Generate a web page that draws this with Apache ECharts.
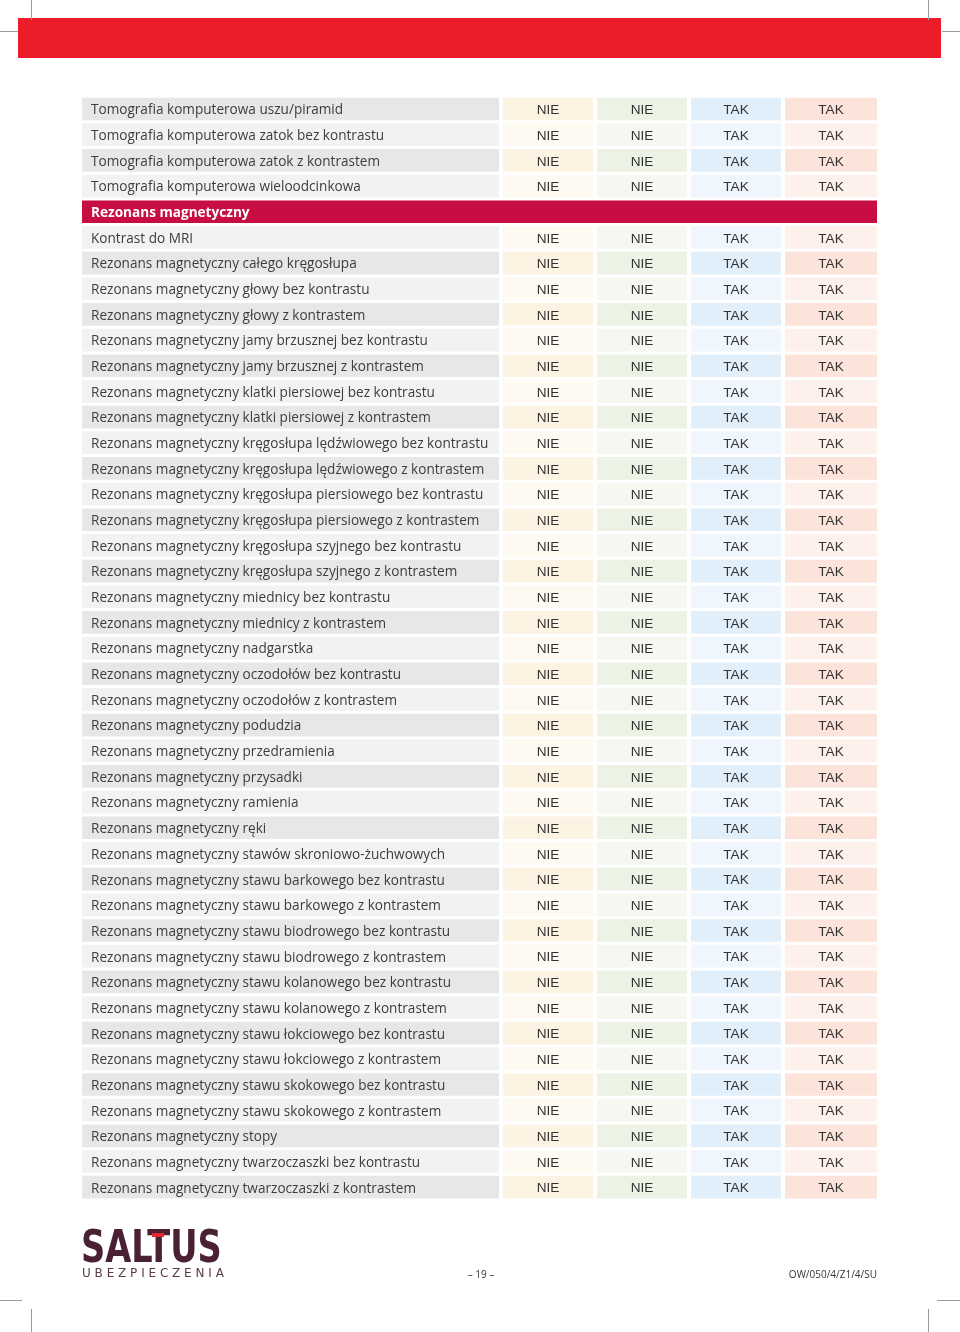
<!DOCTYPE html>
<html>
<head>
<meta charset="utf-8">
<script src="https://cdn.jsdelivr.net/npm/echarts@6/dist/echarts.min.js"></script>
<style>
  html, body { margin: 0; padding: 0; background: #fff; }
  #chart { width: 960px; height: 1332px; }
</style>
</head>
<body>
<div id="chart"></div>
<script>
// row labels, top to bottom
const rowLabels = [
  'Tomografia komputerowa uszu/piramid',
  'Tomografia komputerowa zatok bez kontrastu',
  'Tomografia komputerowa zatok z kontrastem',
  'Tomografia komputerowa wieloodcinkowa',
  'Rezonans magnetyczny',
  'Kontrast do MRI',
  'Rezonans magnetyczny całego kręgosłupa',
  'Rezonans magnetyczny głowy bez kontrastu',
  'Rezonans magnetyczny głowy z kontrastem',
  'Rezonans magnetyczny jamy brzusznej bez kontrastu',
  'Rezonans magnetyczny jamy brzusznej z kontrastem',
  'Rezonans magnetyczny klatki piersiowej bez kontrastu',
  'Rezonans magnetyczny klatki piersiowej z kontrastem',
  'Rezonans magnetyczny kręgosłupa lędźwiowego bez kontrastu',
  'Rezonans magnetyczny kręgosłupa lędźwiowego z kontrastem',
  'Rezonans magnetyczny kręgosłupa piersiowego bez kontrastu',
  'Rezonans magnetyczny kręgosłupa piersiowego z kontrastem',
  'Rezonans magnetyczny kręgosłupa szyjnego bez kontrastu',
  'Rezonans magnetyczny kręgosłupa szyjnego z kontrastem',
  'Rezonans magnetyczny miednicy bez kontrastu',
  'Rezonans magnetyczny miednicy z kontrastem',
  'Rezonans magnetyczny nadgarstka',
  'Rezonans magnetyczny oczodołów bez kontrastu',
  'Rezonans magnetyczny oczodołów z kontrastem',
  'Rezonans magnetyczny podudzia',
  'Rezonans magnetyczny przedramienia',
  'Rezonans magnetyczny przysadki',
  'Rezonans magnetyczny ramienia',
  'Rezonans magnetyczny ręki',
  'Rezonans magnetyczny stawów skroniowo-żuchwowych',
  'Rezonans magnetyczny stawu barkowego bez kontrastu',
  'Rezonans magnetyczny stawu barkowego z kontrastem',
  'Rezonans magnetyczny stawu biodrowego bez kontrastu',
  'Rezonans magnetyczny stawu biodrowego z kontrastem',
  'Rezonans magnetyczny stawu kolanowego bez kontrastu',
  'Rezonans magnetyczny stawu kolanowego z kontrastem',
  'Rezonans magnetyczny stawu łokciowego bez kontrastu',
  'Rezonans magnetyczny stawu łokciowego z kontrastem',
  'Rezonans magnetyczny stawu skokowego bez kontrastu',
  'Rezonans magnetyczny stawu skokowego z kontrastem',
  'Rezonans magnetyczny stopy',
  'Rezonans magnetyczny twarzoczaszki bez kontrastu',
  'Rezonans magnetyczny twarzoczaszki z kontrastem'
];

// section header rows (index into rowLabels)
const sectionRows = [4];

// values of the four option columns, one per row (null on section rows)
const col1 = [
  'NIE', 'NIE', 'NIE', 'NIE', null,
  'NIE', 'NIE', 'NIE', 'NIE', 'NIE', 'NIE', 'NIE', 'NIE', 'NIE', 'NIE',
  'NIE', 'NIE', 'NIE', 'NIE', 'NIE', 'NIE', 'NIE', 'NIE', 'NIE', 'NIE',
  'NIE', 'NIE', 'NIE', 'NIE', 'NIE', 'NIE', 'NIE', 'NIE', 'NIE', 'NIE',
  'NIE', 'NIE', 'NIE', 'NIE', 'NIE', 'NIE', 'NIE', 'NIE'
];
const col2 = [
  'NIE', 'NIE', 'NIE', 'NIE', null,
  'NIE', 'NIE', 'NIE', 'NIE', 'NIE', 'NIE', 'NIE', 'NIE', 'NIE', 'NIE',
  'NIE', 'NIE', 'NIE', 'NIE', 'NIE', 'NIE', 'NIE', 'NIE', 'NIE', 'NIE',
  'NIE', 'NIE', 'NIE', 'NIE', 'NIE', 'NIE', 'NIE', 'NIE', 'NIE', 'NIE',
  'NIE', 'NIE', 'NIE', 'NIE', 'NIE', 'NIE', 'NIE', 'NIE'
];
const col3 = [
  'TAK', 'TAK', 'TAK', 'TAK', null,
  'TAK', 'TAK', 'TAK', 'TAK', 'TAK', 'TAK', 'TAK', 'TAK', 'TAK', 'TAK',
  'TAK', 'TAK', 'TAK', 'TAK', 'TAK', 'TAK', 'TAK', 'TAK', 'TAK', 'TAK',
  'TAK', 'TAK', 'TAK', 'TAK', 'TAK', 'TAK', 'TAK', 'TAK', 'TAK', 'TAK',
  'TAK', 'TAK', 'TAK', 'TAK', 'TAK', 'TAK', 'TAK', 'TAK'
];
const col4 = [
  'TAK', 'TAK', 'TAK', 'TAK', null,
  'TAK', 'TAK', 'TAK', 'TAK', 'TAK', 'TAK', 'TAK', 'TAK', 'TAK', 'TAK',
  'TAK', 'TAK', 'TAK', 'TAK', 'TAK', 'TAK', 'TAK', 'TAK', 'TAK', 'TAK',
  'TAK', 'TAK', 'TAK', 'TAK', 'TAK', 'TAK', 'TAK', 'TAK', 'TAK', 'TAK',
  'TAK', 'TAK', 'TAK', 'TAK', 'TAK', 'TAK', 'TAK', 'TAK'
];
const valueCols = [col1, col2, col3, col4];

// layout: column spans along the x axis (pixels from table left)
const colSpans = [[0, 417], [421, 511], [515, 605], [609, 699], [703, 795]];
const tableWidth = 795;
// [dark, light] fill per column
const colFills = [
  ['#e6e7e8', '#f1f2f2'],
  ['#fdf3e2', '#fefaf2'],
  ['#ecf2e4', '#f5f8f0'],
  ['#e1effa', '#eff6fd'],
  ['#fde4da', '#fef1ec']
];
const headerFill = '#c70d42';
const rowGap = 3;

const cells = [];
rowLabels.forEach((label, r) => {
  if (sectionRows.indexOf(r) >= 0) {
    cells.push({ value: [0, r], text: label, section: true });
    return;
  }
  cells.push({ value: [0, r], text: label });
  valueCols.forEach((col, i) => {
    cells.push({ value: [i + 1, r], text: col[r] });
  });
});

function renderCell(params, api) {
  const cell = cells[params.dataIndex];
  const c = api.value(0);
  const r = api.value(1);
  const h = api.size([0, 1])[1];
  const span = cell.section ? [0, tableWidth] : colSpans[c];
  const p0 = api.coord([span[0], r]);
  const p1 = api.coord([span[1], r]);
  const fill = cell.section ? headerFill : colFills[c][r % 2];
  const isLabel = c === 0;
  return {
    type: 'group',
    children: [
      {
        type: 'rect',
        shape: { x: p0[0], y: p0[1] - h / 2 + rowGap / 2, width: p1[0] - p0[0], height: h - rowGap },
        style: { fill: fill },
        silent: true
      },
      {
        type: 'text',
        x: isLabel ? p0[0] + 9 : (p0[0] + p1[0]) / 2,
        y: p0[1] + 1.5,
        style: {
          text: cell.text,
          fill: cell.section ? '#ffffff' : (isLabel ? '#3d3d3d' : '#333333'),
          font: cell.section
            ? 'bold 13.6px "Open Sans"'
            : (isLabel ? '13.6px "Open Sans"' : '13.6px "Liberation Sans"'),
          align: isLabel ? 'left' : 'center',
          verticalAlign: 'middle'
        },
        silent: true
      }
    ]
  };
}

const markColor = '#9a9a9a';
function mark(x1, y1, x2, y2) {
  return { type: 'line', shape: { x1, y1, x2, y2 }, style: { stroke: markColor, lineWidth: 1 }, z: 10 };
}

const chart = echarts.init(document.getElementById('chart'));
chart.setOption({
  animation: false,
  grid: { left: 82, top: 96.2, width: tableWidth, height: 1103.8 },
  xAxis: { type: 'value', min: 0, max: tableWidth, show: false },
  yAxis: { type: 'category', data: rowLabels, inverse: true, show: false },
  series: [{
    type: 'custom',
    renderItem: renderCell,
    data: cells,
    encode: { x: 0, y: 1 }
  }],
  graphic: [
    // red page band
    { type: 'rect', shape: { x: 18, y: 18, width: 923, height: 40 }, style: { fill: '#ed1c2b' }, z: 1 },
    // crop marks
    mark(31.5, 0, 31.5, 20), mark(0, 31.5, 18, 31.5),
    mark(928.5, 0, 928.5, 20), mark(942, 31.5, 960, 31.5),
    mark(0, 1300.5, 22, 1300.5), mark(31.5, 1309, 31.5, 1332),
    mark(937, 1300.5, 960, 1300.5), mark(928.5, 1309, 928.5, 1332),
    // logo
    {
      type: 'text', x: 81, y: 1251, scaleX: 0.765,
      style: {
        text: 'SALTUS', fill: '#4a2035',
        font: 'bold 44px "DejaVu Sans"', verticalAlign: 'middle'
      }
    },
    { type: 'rect', shape: { x: 152, y: 1233, width: 12, height: 4 }, style: { fill: '#e3262f' }, z: 20 },
    {
      type: 'text', x: 82, y: 1274,
      style: {
        text: 'U B E Z P I E C Z E N I A', fill: '#5a3a4c',
        font: '12px "DejaVu Sans"', verticalAlign: 'middle'
      }
    },
    {
      type: 'text', x: 481, y: 1275,
      style: { text: '– 19 –', fill: '#333', font: '10px "Open Sans"', align: 'center', verticalAlign: 'middle' }
    },
    {
      type: 'text', x: 877, y: 1275,
      style: { text: 'OW/050/4/Z1/4/SU', fill: '#333', font: '10px "Open Sans"', align: 'right', verticalAlign: 'middle' }
    }
  ]
});
</script>
</body>
</html>
